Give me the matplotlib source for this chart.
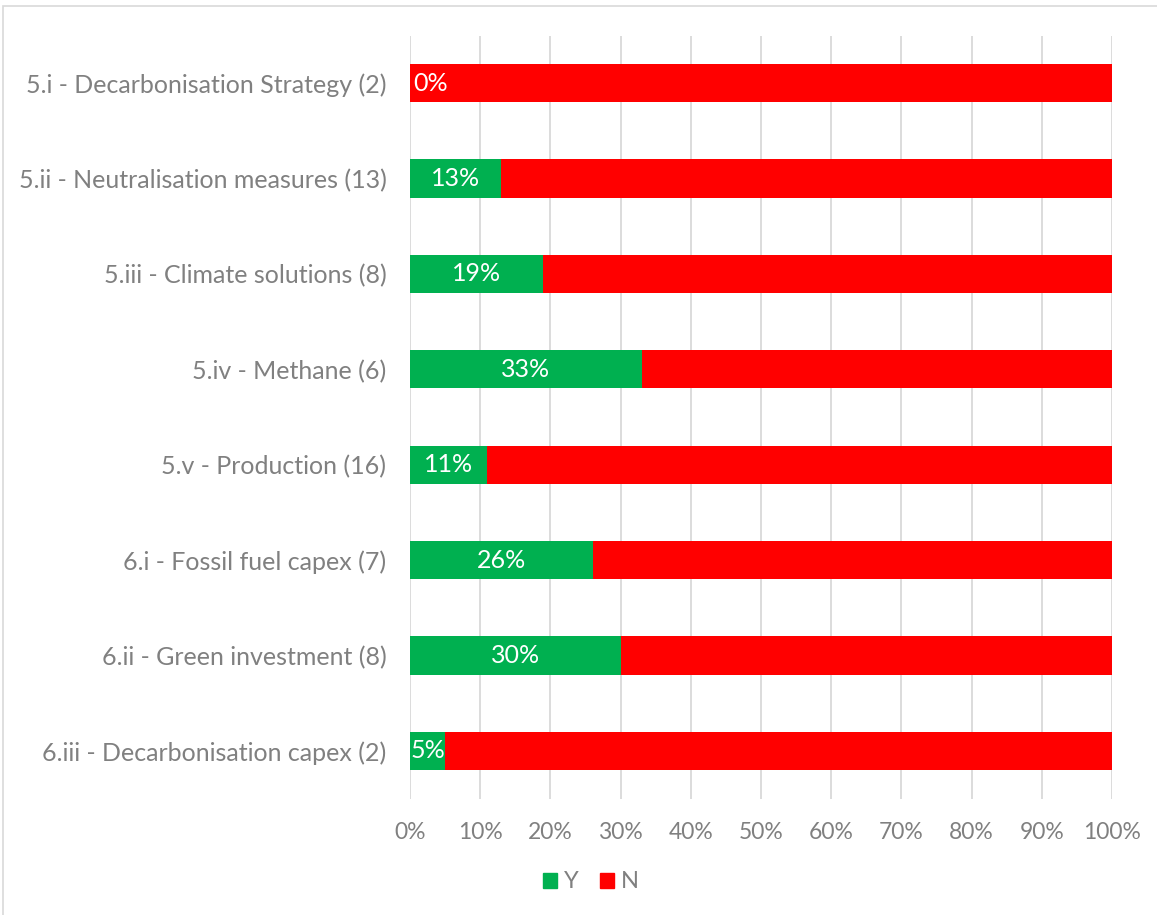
import matplotlib
matplotlib.use("Agg")
import matplotlib.pyplot as plt
from matplotlib.patches import Rectangle, Patch

plt.rcParams['font.family'] = ['Lato', 'DejaVu Sans']

categories = [
    "5.i - Decarbonisation Strategy (2)",
    "5.ii - Neutralisation measures (13)",
    "5.iii - Climate solutions (8)",
    "5.iv - Methane (6)",
    "5.v - Production (16)",
    "6.i - Fossil fuel capex (7)",
    "6.ii - Green investment (8)",
    "6.iii - Decarbonisation capex (2)",
]
yes_pct = [0, 13, 19, 33, 11, 26, 30, 5]
no_pct = [100 - v for v in yes_pct]
x_ticks = [0, 10, 20, 30, 40, 50, 60, 70, 80, 90, 100]
x_tick_labels = [f"{t}%" for t in x_ticks]

GREEN = "#00B050"
RED = "#FF0000"
GREY_TXT = "#808080"
GRID = "#D9D9D9"

fig = plt.figure(figsize=(11.57, 9.15), dpi=100)
ax = fig.add_axes([410 / 1157, 1 - 798.5 / 915, 702 / 1157, 763 / 915])

ypos = list(range(len(categories)))
bh = 0.4
ax.barh(ypos, yes_pct, height=bh, color=GREEN, zorder=3)
ax.barh(ypos, no_pct, left=yes_pct, height=bh, color=RED, zorder=3)

for y, v in zip(ypos, yes_pct):
    if v == 0:
        ax.text(0.4, y, f"{v}%", ha="left", va="center", color="white",
                fontsize=18, zorder=4)
    else:
        ax.text(v / 2, y, f"{v}%", ha="center", va="center", color="white",
                fontsize=18, zorder=4)

ax.set_xlim(0, 100)
ax.set_ylim(len(categories) - 0.5, -0.5)
ax.set_xticks(x_ticks)
ax.set_xticklabels(x_tick_labels, fontsize=16.5, color=GREY_TXT)
ax.set_yticks(ypos)
ax.set_yticklabels(categories, fontsize=18, color=GREY_TXT)
ax.tick_params(axis="both", length=0)
ax.tick_params(axis="x", pad=17)
ax.tick_params(axis="y", pad=17)
ax.xaxis.grid(True, color=GRID, linewidth=1.3, zorder=0)
ax.set_axisbelow(True)
for s in ax.spines.values():
    s.set_visible(False)

handles = [Patch(color=GREEN, label="Y"), Patch(color=RED, label="N")]
fig.legend(handles=handles, loc="center", bbox_to_anchor=(591 / 1157, 1 - 882 / 915),
           ncol=2, frameon=False, fontsize=17, handlelength=0.6, handleheight=0.6,
           handletextpad=0.3, columnspacing=0.9, labelcolor=GREY_TXT)

fig.patches.append(Rectangle((3 / 1157, -0.01), 1.02, 1 - 6 / 915 + 0.01,
                             transform=fig.transFigure, fill=False,
                             edgecolor="#D9D9D9", linewidth=1.2))

fig.savefig("out.png", dpi=100)
